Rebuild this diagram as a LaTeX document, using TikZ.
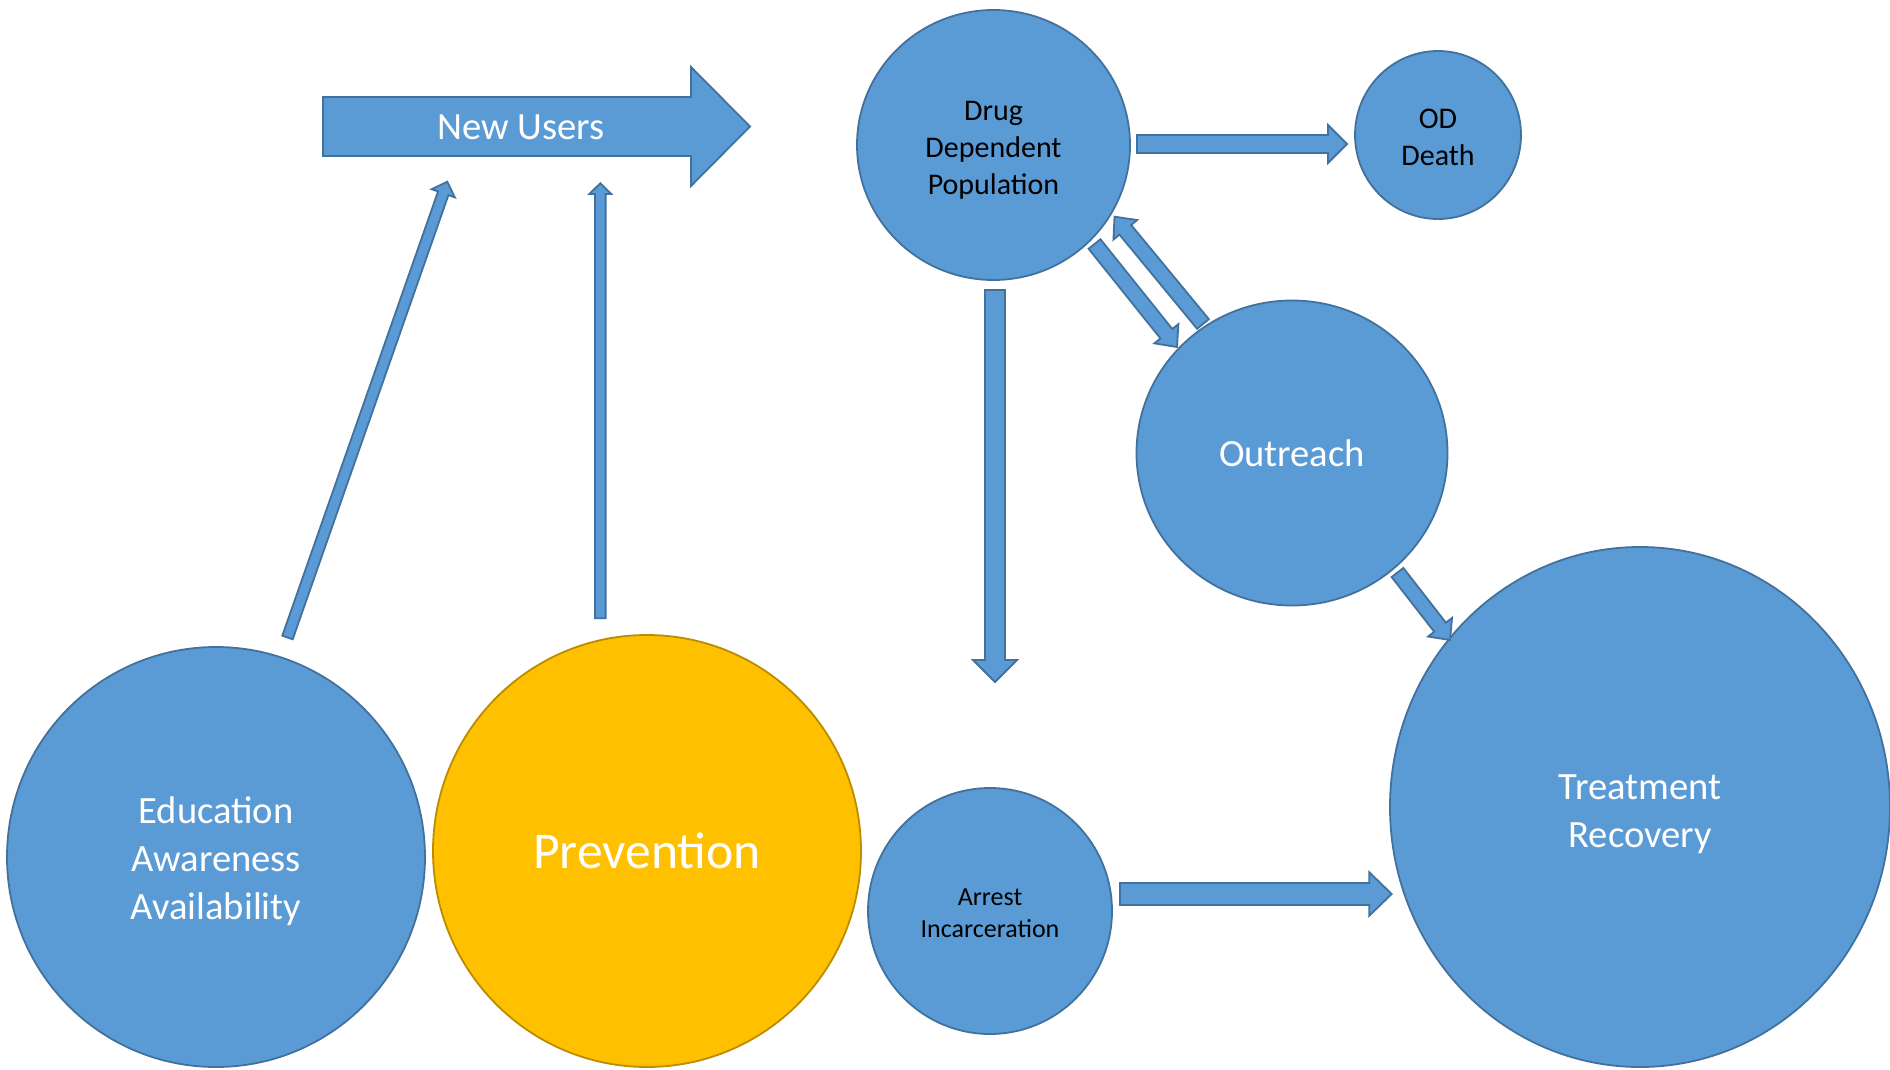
\documentclass[tikz,border=0pt]{standalone}
\usepackage{fontspec}
\setmainfont{Carlito}
\usetikzlibrary{calc,shapes.geometric}
\definecolor{fillblue}{HTML}{5B9BD5}
\definecolor{lineblue}{HTML}{41719C}
\definecolor{fillgold}{HTML}{FFC000}
\definecolor{linegold}{HTML}{BC8C00}
\tikzset{
  bubble/.style 2 args={ellipse, draw=lineblue, fill=fillblue, line width=0.9pt,
    inner sep=0pt, align=center, text=white, minimum width=#1pt, minimum height=#2pt},
  goldbubble/.style={draw=linegold, fill=fillgold},
  bigtext/.style={font=\fontsize{19.3}{24}\selectfont},
  midtext/.style={font=\fontsize{15}{18.5}\selectfont, text=black},
  smalltext/.style={font=\fontsize{13}{15.7}\selectfont, text=black},
  hugetext/.style={font=\fontsize{25.8}{30}\selectfont},
  arrowbody/.style={draw=lineblue, fill=fillblue, line width=0.9pt, line join=miter},
}
\newcommand{\mystrut}[1]{\rule{0pt}{#1}}
% start, tip, body half-width, head half-width, head length
\newcommand{\blockarrow}[5]{%
  \coordinate (bah) at ($(#2)!#5!(#1)$);
  \filldraw[arrowbody] ($(#1)!#3!90:(#2)$) -- ($(bah)!#3!90:(#2)$) -- ($(bah)!#4!90:(#2)$)
    -- (#2) -- ($(bah)!#4!-90:(#2)$) -- ($(bah)!#3!-90:(#2)$) -- ($(#1)!#3!-90:(#2)$) -- cycle;
}
\begin{document}
\begin{tikzpicture}[x=0.5pt, y=-0.5pt]
\useasboundingbox (0,0) rectangle (1890,1070);

% circles
\node[bubble={209}{210}, bigtext] (edu) at (216,857) {\mystrut{18pt}Education\\Awareness\\Availability};
\node[bubble={214}{216}, goldbubble, hugetext] (prev) at (647,851) {Prevention};
\node[bubble={136.5}{135}, midtext] (drug) at (993.5,145) {\mystrut{15pt}Drug\\Dependent\\Population};
\node[bubble={83}{84}, midtext] (od) at (1438,135) {\mystrut{12.5pt}OD\\Death};
\node[bubble={155.5}{152.5}, bigtext] (outreach) at (1292,453) {Outreach};
\node[bubble={122}{123}, smalltext] (arrest) at (990,911) {\mystrut{10.5pt}Arrest\\Incarceration};
\node[bubble={250}{260}, bigtext] (treat) at (1640,807) {\mystrut{19.3pt}Treatment\\Recovery};

% arrow end points
\coordinate (nuT) at (323,126.5);   \coordinate (nuH) at (750,126.5);
\coordinate (eS) at (287.5,637.5);  \coordinate (eE) at (447.3,181.7);
\coordinate (pS) at (600.3,618.3);  \coordinate (pE) at (600.3,183.3);
\coordinate (doS) at (1137,144);    \coordinate (doE) at (1347,144);
\coordinate (dxS) at (1094.5,244);  \coordinate (dxE) at (1177,347);
\coordinate (xdS) at (1203,324);    \coordinate (xdE) at (1114.5,216.7);
\coordinate (daS) at (995,290);     \coordinate (daE) at (995,682);
\coordinate (xtS) at (1397.5,572.5);\coordinate (xtE) at (1450,640);
\coordinate (atS) at (1120,894);    \coordinate (atE) at (1391.7,894);

% New Users block arrow
\blockarrow{nuT}{nuH}{14.75pt}{29.75pt}{29.5pt}
\node[bigtext, text=white, inner sep=0pt] (newusers) at (521,127) {New Users};

% connectors
\blockarrow{eS}{eE}{2.75pt}{6.15pt}{6.15pt}
\blockarrow{pS}{pE}{2.65pt}{5.5pt}{5.35pt}
\blockarrow{doS}{doE}{4.5pt}{9.5pt}{9.5pt}
\blockarrow{dxS}{dxE}{3.8pt}{7.7pt}{8.5pt}
\blockarrow{xdS}{xdE}{3.8pt}{7.7pt}{8.5pt}
\blockarrow{daS}{daE}{5pt}{11pt}{11pt}
\blockarrow{xtS}{xtE}{3.7pt}{7.6pt}{8.1pt}
\blockarrow{atS}{atE}{5.5pt}{10.85pt}{11.2pt}
\end{tikzpicture}
\end{document}
